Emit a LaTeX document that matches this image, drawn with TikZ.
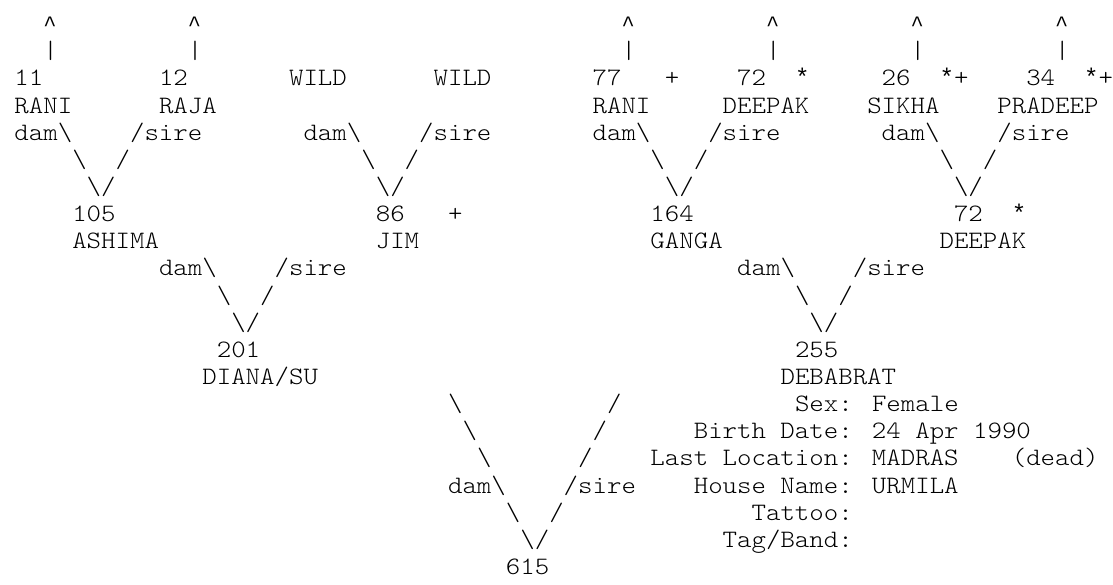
\documentclass[tikz,border=0pt]{standalone}
\usepackage{fontspec}
\newfontfamily\pedfont{lmmonolt10-regular.otf}[FakeStretch=1.10]
\newfontfamily\pedsymfont{Liberation Mono}
\newcommand\pedcaret{{\pedsymfont\fontsize{11pt}{13pt}\selectfont\textasciicircum}}
\newcommand\pedstar{{\pedsymfont\fontsize{12.04pt}{13pt}\selectfont *}}
\tikzset{
  ped/.style={font=\pedfont\fontsize{12.51pt}{13pt}\selectfont, text=black,
              anchor=base west, inner sep=0pt, outer sep=0pt},
}

\begin{document}
\begin{tikzpicture}[x=7.2275pt, y=13.575pt]
  \path[fill=white, use as bounding box] (0,0.164) rectangle (77,-21.383);
  % arrows to older generations
  \node[ped] (upRani)    at (3,-1)  {\pedcaret};
  \node[ped] (upRaja)    at (13,-1) {\pedcaret};
  \node[ped] (upRaniB)   at (43,-1) {\pedcaret};
  \node[ped] (upDeepakT) at (53,-1) {\pedcaret};
  \node[ped] (upSikha)   at (63,-1) {\pedcaret};
  \node[ped] (upPradeep) at (73,-1) {\pedcaret};
  \node[ped] (barRani)    at (3,-2)  {|};
  \node[ped] (barRaja)    at (13,-2) {|};
  \node[ped] (barRaniB)   at (43,-2) {|};
  \node[ped] (barDeepakT) at (53,-2) {|};
  \node[ped] (barSikha)   at (63,-2) {|};
  \node[ped] (barPradeep) at (73,-2) {|};
  % great-grandparents
  \node[ped] (idRani)     at (1,-3)  {11};
  \node[ped] (idRaja)     at (11,-3) {12};
  \node[ped] (idWildDam)  at (20,-3) {WILD};
  \node[ped] (idWildSire) at (30,-3) {WILD};
  \node[ped] (idRaniB)    at (41,-3) {77};
  \node[ped] (flRaniB)    at (46,-3) {+};
  \node[ped] (idDeepakT)  at (51,-3) {72};
  \node[ped] (flDeepakT)  at (55,-3) {\pedstar};
  \node[ped] (idSikha)    at (61,-3) {26};
  \node[ped] (flSikha)    at (65,-3) {\pedstar+};
  \node[ped] (idPradeep)  at (71,-3) {34};
  \node[ped] (flPradeep)  at (75,-3) {\pedstar+};
  \node[ped] (nmRani)     at (1,-4)  {RANI};
  \node[ped] (nmRaja)     at (11,-4) {RAJA};
  \node[ped] (nmRaniB)    at (41,-4) {RANI};
  \node[ped] (nmDeepakT)  at (50,-4) {DEEPAK};
  \node[ped] (nmSikha)    at (60,-4) {SIKHA};
  \node[ped] (nmPradeep)  at (69,-4) {PRADEEP};
  \node[ped] (damAshima)  at (1,-5)  {dam\textbackslash};
  \node[ped] (sireAshima) at (9,-5)  {/sire};
  \node[ped] (damJim)     at (21,-5) {dam\textbackslash};
  \node[ped] (sireJim)    at (29,-5) {/sire};
  \node[ped] (damGanga)   at (41,-5) {dam\textbackslash};
  \node[ped] (sireGanga)  at (49,-5) {/sire};
  \node[ped] (damDeepak)  at (61,-5) {dam\textbackslash};
  \node[ped] (sireDeepak) at (69,-5) {/sire};
  \node[ped] (lAshima) at (5,-6)  {\textbackslash};
  \node[ped] (rAshima) at (8,-6)  {/};
  \node[ped] (lJim)    at (25,-6) {\textbackslash};
  \node[ped] (rJim)    at (28,-6) {/};
  \node[ped] (lGanga)  at (45,-6) {\textbackslash};
  \node[ped] (rGanga)  at (48,-6) {/};
  \node[ped] (lDeepak) at (65,-6) {\textbackslash};
  \node[ped] (rDeepak) at (68,-6) {/};
  \node[ped] (vAshima) at (6,-7)  {\textbackslash/};
  \node[ped] (vJim)    at (26,-7) {\textbackslash/};
  \node[ped] (vGanga)  at (46,-7) {\textbackslash/};
  \node[ped] (vDeepak) at (66,-7) {\textbackslash/};
  % grandparents
  \node[ped] (idAshima) at (5,-8)  {105};
  \node[ped] (idJim)    at (26,-8) {86};
  \node[ped] (flJim)    at (31,-8) {+};
  \node[ped] (idGanga)  at (45,-8) {164};
  \node[ped] (idDeepak) at (66,-8) {72};
  \node[ped] (flDeepak) at (70,-8) {\pedstar};
  \node[ped] (nmAshima) at (5,-9)  {ASHIMA};
  \node[ped] (nmJim)    at (26,-9) {JIM};
  \node[ped] (nmGanga)  at (45,-9) {GANGA};
  \node[ped] (nmDeepak) at (65,-9) {DEEPAK};
  \node[ped] (damDiana)     at (11,-10) {dam\textbackslash};
  \node[ped] (sireDiana)    at (19,-10) {/sire};
  \node[ped] (damDebabrat)  at (51,-10) {dam\textbackslash};
  \node[ped] (sireDebabrat) at (59,-10) {/sire};
  \node[ped] (lDiana)    at (15,-11) {\textbackslash};
  \node[ped] (rDiana)    at (18,-11) {/};
  \node[ped] (lDebabrat) at (55,-11) {\textbackslash};
  \node[ped] (rDebabrat) at (58,-11) {/};
  \node[ped] (vDiana)    at (16,-12) {\textbackslash/};
  \node[ped] (vDebabrat) at (56,-12) {\textbackslash/};
  % parents
  \node[ped] (idDiana)    at (15,-13) {201};
  \node[ped] (idDebabrat) at (55,-13) {255};
  \node[ped] (nmDiana)    at (14,-14) {DIANA/SU};
  \node[ped] (nmDebabrat) at (54,-14) {DEBABRAT};
  \node[ped] (lSubjectA) at (31,-15) {\textbackslash};
  \node[ped] (rSubjectA) at (42,-15) {/};
  \node[ped] (lSubjectB) at (32,-16) {\textbackslash};
  \node[ped] (rSubjectB) at (41,-16) {/};
  \node[ped] (lSubjectC) at (33,-17) {\textbackslash};
  \node[ped] (rSubjectC) at (40,-17) {/};
  \node[ped] (damSubject)  at (31,-18) {dam\textbackslash};
  \node[ped] (sireSubject) at (39,-18) {/sire};
  \node[ped] (lSubject)    at (35,-19) {\textbackslash};
  \node[ped] (rSubject)    at (38,-19) {/};
  \node[ped] (vSubject)    at (36,-20) {\textbackslash/};
  \node[ped] (idSubject)   at (35,-21) {615};
  % record of the subject
  \node[ped] (infoSex)    at (55,-15) {Sex: Female};
  \node[ped] (infoBirth)  at (48,-16) {Birth Date: 24 Apr 1990};
  \node[ped] (infoLoc)    at (45,-17) {Last Location: MADRAS};
  \node[ped] (infoDead)   at (70,-17) {(dead)};
  \node[ped] (infoHouse)  at (48,-18) {House Name: URMILA};
  \node[ped] (infoTattoo) at (52,-19) {Tattoo:};
  \node[ped] (infoTag)    at (50,-20) {Tag/Band:};
\end{tikzpicture}
\end{document}
